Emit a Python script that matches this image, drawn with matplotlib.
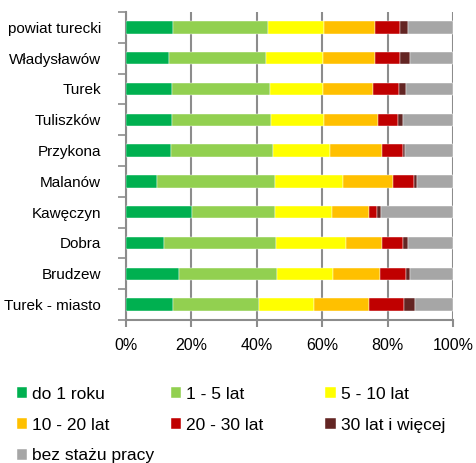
import matplotlib
matplotlib.use("Agg")
import matplotlib.pyplot as plt
import numpy as np

plt.rcParams['font.family'] = ['Liberation Sans', 'DejaVu Sans']

categories = ["powiat turecki", "Władysławów", "Turek", "Tuliszków", "Przykona",
              "Malanów", "Kawęczyn", "Dobra", "Brudzew", "Turek - miasto"]
series_names = ["do 1 roku", "1 - 5 lat", "5 - 10 lat", "10 - 20 lat",
                "20 - 30 lat", "30 lat i więcej", "bez stażu pracy"]
do_1_roku = [14.3, 13.2, 14.1, 14.1, 13.7, 9.5, 20.2, 11.6, 16.3, 14.4]
lat_1_5 = [29.1, 29.7, 30.0, 30.2, 31.3, 36.1, 25.4, 34.3, 30.0, 26.2]
lat_5_10 = [17.2, 17.4, 16.0, 16.2, 17.4, 20.9, 17.5, 21.5, 16.9, 17.0]
lat_10_20 = [15.5, 15.8, 15.5, 16.5, 15.9, 15.2, 11.3, 11.0, 14.6, 16.6]
lat_20_30 = [7.8, 7.8, 7.8, 6.1, 6.3, 6.3, 2.5, 6.2, 7.8, 10.7]
lat_30_plus = [2.4, 2.8, 2.3, 1.5, 0.8, 1.0, 1.1, 1.7, 1.4, 3.6]
bez_stazu = [13.7, 13.3, 14.3, 15.4, 14.6, 11.0, 22.0, 13.7, 13.0, 11.5]
xtick_labels = ["0%", "20%", "40%", "60%", "80%", "100%"]

series = [do_1_roku, lat_1_5, lat_5_10, lat_10_20, lat_20_30, lat_30_plus, bez_stazu]
colors = ["#00B050", "#92D050", "#FFFF00", "#FFC000", "#C00000", "#632523", "#A6A6A6"]

fig = plt.figure(figsize=(4.76, 4.63), dpi=100)
ax = fig.add_axes([126/476, 1-320/463, 327/476, 308/463])

y = np.arange(len(categories))
left = np.zeros(len(categories))
conts = []
for vals, col, name in zip(series, colors, series_names):
    v = np.array(vals)
    c = ax.barh(y, v, left=left, height=0.4, color=col, label=name,
                edgecolor='white', linewidth=0.3, zorder=3)
    conts.append(c)
    left += v

ax.set_xlim(0, 100)
ax.set_ylim(len(categories) - 0.5, -0.5)
ax.set_xticks([0, 20, 40, 60, 80, 100])
ax.set_xticklabels(xtick_labels, fontsize=11.5)
ax.set_yticks(y)
ax.set_yticklabels(categories, fontsize=11)
ax.tick_params(axis='y', length=0, pad=18)
ax.set_yticks(np.arange(-0.5, len(categories), 1), minor=True)
ax.tick_params(axis='y', which='minor', length=6, width=1.2, color='#8c8c8c', direction='out')
ax.tick_params(axis='x', length=5, width=1.5, color='#8c8c8c', pad=8)
ax.xaxis.grid(True, color='#8c8c8c', linewidth=1.5, zorder=0)
ax.set_axisbelow(True)
for s in ['top', 'right']:
    ax.spines[s].set_visible(False)
for s in ['left', 'bottom']:
    ax.spines[s].set_color('#8c8c8c')
    ax.spines[s].set_linewidth(1.5)

# legend, row-major across three columns
LFS = 12.5
cols_idx = [[0, 3, 6], [1, 4], [2, 5]]
xs = [16.5/476, 170.5/476, 325/476]
hl = 10.5 / (LFS * 100 / 72)
for xi, idx in zip(xs, cols_idx):
    fig.legend([conts[i] for i in idx], [series_names[i] for i in idx],
               loc='upper left', bbox_to_anchor=(xi, 1-387/463),
               frameon=False, fontsize=LFS, handlelength=hl, handleheight=hl,
               handletextpad=0.3, labelspacing=0.9, borderaxespad=0, borderpad=0)

fig.savefig("out.png", dpi=100)
